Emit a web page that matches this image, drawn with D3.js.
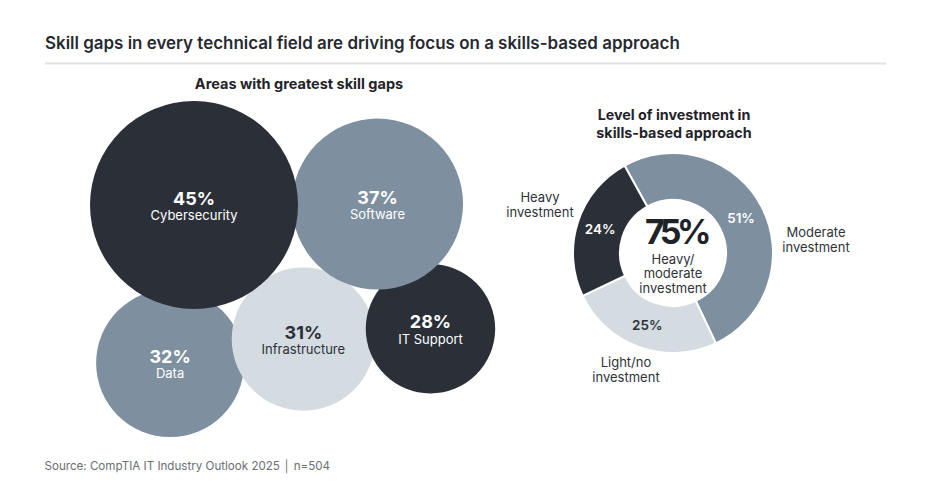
<!DOCTYPE html>
<html>
<head>
<meta charset="utf-8">
<script src="https://cdn.jsdelivr.net/npm/d3@7/dist/d3.min.js"></script>
<style>
  html, body { margin: 0; padding: 0; background: #ffffff; }
  svg { display: block; font-family: Inter, "Noto Sans", sans-serif; }
</style>
</head>
<body>
<svg id="chart" width="936" height="499"></svg>
<script>
// ---------- DATA ----------
const title = "Skill gaps in every technical field are driving focus on a skills-based approach";
const bubbleTitle = "Areas with greatest skill gaps";
const gapAreas = ["Cybersecurity", "Software", "IT Support", "Infrastructure", "Data"];
const gapValues = [45, 37, 28, 31, 32];
const gapTone = ["dark", "mid", "dark", "light", "mid"];

const donutTitle = ["Level of investment in", "skills-based approach"];
const investLevels = ["Moderate investment", "Light/no investment", "Heavy investment"];
const investValues = [51, 25, 24];
const investTone = ["mid", "light", "dark"];
const investLabelLines = [["Moderate", "investment"], ["Light/no", "investment"], ["Heavy", "investment"]];
const centerValue = "75%";
const centerLabel = ["Heavy/", "moderate", "investment"];
const source = "Source: CompTIA IT Industry Outlook 2025 \u2502 n=504";

// ---------- STYLE ----------
const colors = { dark: "#2b3038", mid: "#7e8f9f", light: "#d4dce2" };
const textOn = { dark: "#ffffff", mid: "#ffffff", light: "#2b3038" };

const svg = d3.select("#chart");

// Title + rule
svg.append("text").attr("x", 45).attr("y", 48.5)
  .attr("font-size", 16.95).attr("font-weight", 600).attr("fill", "#262a30")
  .text(title);
svg.append("line").attr("x1", 45).attr("x2", 886).attr("y1", 63.5).attr("y2", 63.5)
  .attr("stroke", "#e1e2e4").attr("stroke-width", 2);

// ---------- BUBBLES ----------
svg.append("text").attr("x", 299).attr("y", 88.5).attr("text-anchor", "middle")
  .attr("font-size", 14.5).attr("font-weight", 700).attr("fill", "#1f2328")
  .text(bubbleTitle);

const rScale = d3.scaleLinear().domain([0, d3.max(gapValues)]).range([0, 104]);

// relative packing: each bubble placed against an anchor bubble at an angle, with a small overlap
const placement = {
  "Cybersecurity": null,
  "Software":       { anchor: "Cybersecurity", angle: -0.3, gap: -6 },
  "IT Support":     { anchor: "Software",      angle: 67,   gap: -14.7 },
  "Infrastructure": { anchor: "Cybersecurity", angle: 50.8, gap: -2.6 },
  "Data":           { anchor: "Cybersecurity", angle: 98.6, gap: -18 }
};
const areaLeft = 90, areaTop = 101;

const bubbles = gapAreas.map((name, i) => ({ name, value: gapValues[i], tone: gapTone[i], r: rScale(gapValues[i]) }));
const byName = {};
bubbles.forEach(b => byName[b.name] = b);
bubbles.forEach(b => {
  const p = placement[b.name];
  if (!p) { b.x = areaLeft + b.r; b.y = areaTop + b.r; return; }
  const a = byName[p.anchor];
  const d = a.r + b.r + p.gap;
  const t = p.angle * Math.PI / 180;
  b.x = a.x + d * Math.cos(t);
  b.y = a.y + d * Math.sin(t);
});

const drawOrder = ["Data", "Infrastructure", "IT Support", "Software", "Cybersecurity"];
const bubbleG = svg.append("g");
const bg = bubbleG.selectAll("g.bubble")
  .data(drawOrder.map(n => byName[n]))
  .join("g").attr("class", "bubble")
  .attr("transform", d => `translate(${d.x},${d.y})`);
bg.append("circle").attr("r", d => d.r).attr("fill", d => colors[d.tone]);
bg.append("text").attr("text-anchor", "middle").attr("y", -0.5)
  .attr("font-size", 18).attr("font-weight", 700).attr("fill", d => textOn[d.tone])
  .text(d => d.value + "%");
bg.append("text").attr("text-anchor", "middle").attr("y", 15)
  .attr("font-size", 13).attr("font-weight", 400).attr("fill", d => textOn[d.tone])
  .text(d => d.name);

// ---------- DONUT ----------
const dg = svg.append("g").attr("transform", "translate(673,253)");
svg.append("g").selectAll("text").data(donutTitle).join("text")
  .attr("x", 674).attr("y", (d, i) => 119.5 + i * 18)
  .attr("text-anchor", "middle").attr("font-size", 14.3).attr("font-weight", 700).attr("fill", "#1f2328")
  .text(d => d);

const outerR = 100, innerR = 53;
const startDeg = -29;
const pie = d3.pie().sort(null).value(d => d.value)
  .startAngle(startDeg * Math.PI / 180).endAngle((startDeg + 360) * Math.PI / 180);
const slices = pie(investLevels.map((name, i) => ({ name, value: investValues[i], tone: investTone[i], lines: investLabelLines[i] })));
const arc = d3.arc().innerRadius(innerR).outerRadius(outerR);
const labelArc = d3.arc().innerRadius((innerR + outerR) / 2).outerRadius((innerR + outerR) / 2);

dg.selectAll("path").data(slices).join("path")
  .attr("d", arc).attr("fill", d => colors[d.data.tone])
  .attr("stroke", "#ffffff").attr("stroke-width", 2);

dg.selectAll("text.pct").data(slices).join("text").attr("class", "pct")
  .attr("transform", d => `translate(${labelArc.centroid(d)})`)
  .attr("dy", "0.36em").attr("text-anchor", "middle")
  .attr("font-size", 13.5).attr("font-weight", 600).attr("fill", d => textOn[d.data.tone])
  .text(d => d.data.value + "%");

// outside labels
const outsideAnchor = {
  "Moderate investment": { x: 816, y: 237 },
  "Light/no investment": { x: 626, y: 367 },
  "Heavy investment":    { x: 540, y: 202 }
};
const og = svg.append("g");
slices.forEach(s => {
  const pos = outsideAnchor[s.data.name];
  og.append("g").selectAll("text").data(s.data.lines).join("text")
    .attr("x", pos.x).attr("y", (d, i) => pos.y + i * 15)
    .attr("text-anchor", "middle").attr("font-size", 13).attr("fill", "#2f3338")
    .text(d => d);
});

// center
dg.append("text").attr("text-anchor", "middle").attr("x", 3).attr("y", -9)
  .attr("font-size", 34).attr("font-weight", 700).attr("letter-spacing", -4.5).attr("fill", "#1f2328")
  .text(centerValue);
dg.append("g").selectAll("text").data(centerLabel).join("text")
  .attr("text-anchor", "middle").attr("y", (d, i) => 10.5 + i * 14.5)
  .attr("font-size", 13).attr("fill", "#2f3338")
  .text(d => d);

// ---------- SOURCE ----------
svg.append("text").attr("x", 44.5).attr("y", 469.5)
  .attr("font-size", 11.6).attr("fill", "#6b6e72")
  .text(source);
</script>
</body>
</html>
